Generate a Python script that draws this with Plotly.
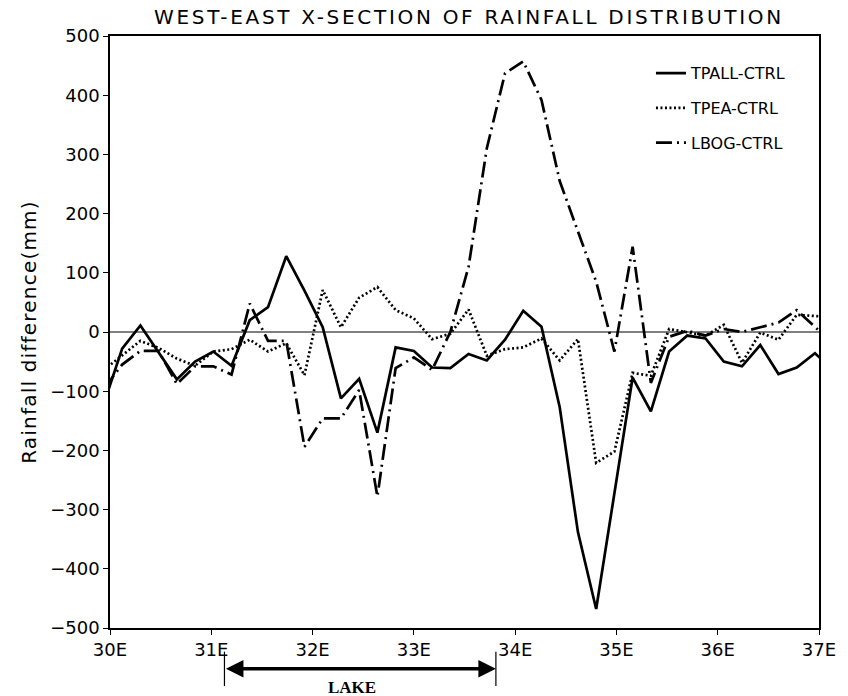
import plotly.graph_objects as go

# Longitude of each model grid column (degrees East)
lon = [29.94, 30.12, 30.30, 30.48, 30.66, 30.84, 31.02, 31.20, 31.38, 31.56,
       31.74, 31.92, 32.10, 32.28, 32.46, 32.64, 32.82, 33.00, 33.18, 33.36,
       33.54, 33.72, 33.90, 34.08, 34.26, 34.44, 34.62, 34.80, 34.98, 35.16,
       35.34, 35.52, 35.70, 35.88, 36.06, 36.24, 36.42, 36.60, 36.78, 36.96,
       37.14]

# Rainfall differences against the control run (mm)
tpall_ctrl = [-121, -28, 11, -35, -80, -50, -33, -57, 20, 42,
              128, 70, 8, -112, -79, -170, -26, -32, -60, -61,
              -37, -48, -13, 36, 9, -127, -338, -468, -273, -77,
              -134, -33, -6, -11, -50, -58, -22, -71, -60, -36,
              -64]
tpea_ctrl = [-64, -39, -15, -27, -45, -57, -33, -29, -13, -33,
             -19, -73, 71, 8, 58, 76, 37, 23, -12, -3,
             38, -40, -29, -26, -11, -48, -12, -221, -202, -69,
             -74, 5, 0, -6, 12, -52, -1, -13, 29, 27,
             25]
lbog_ctrl = [-95, -55, -32, -32, -88, -58, -58, -72, 48, -15,
             -15, -194, -146, -146, -98, -278, -61, -43, -64, 0,
             110, 310, 437, 457, 392, 255, 170, 85, -33, 144,
             -86, -8, 2, -6, 5, 0, 8, 16, 37, 8,
             -20]

series_names = ["TPALL-CTRL", "TPEA-CTRL", "LBOG-CTRL"]
series_dash = ["solid", "2px,2.5px", "16px,5px,2px,5px"]

x_ticks = [30, 31, 32, 33, 34, 35, 36, 37]
x_tick_text = ["30E", "31E", "32E", "33E", "34E", "35E", "36E", "37E"]
y_ticks = [-500, -400, -300, -200, -100, 0, 100, 200, 300, 400, 500]

# Extent of the lake along the section (degrees East)
lake_west, lake_east = 31.13, 33.81

FONT = "DejaVu Sans, sans-serif"

fig = go.Figure()
for name, vals, dash in zip(series_names, [tpall_ctrl, tpea_ctrl, lbog_ctrl], series_dash):
    fig.add_trace(go.Scatter(
        x=lon, y=vals, mode="lines", name=name, legendgroup=name,
        line=dict(color="black", width=2.7, dash=dash),
    ))

# zero reference line
fig.add_hline(y=0, line=dict(color="black", width=1))

# lake extent marker below the x axis
for xv in (lake_west, lake_east):
    fig.add_shape(type="line", xref="x", yref="paper", x0=xv, x1=xv,
                  y0=-0.040, y1=-0.098, line=dict(color="black", width=1.2))
fig.add_annotation(x=lake_east, y=-0.069, xref="x", yref="paper",
                   ax=lake_west, ay=0, axref="x", ayref="pixel",
                   showarrow=True, arrowside="end+start", arrowhead=2,
                   arrowsize=1.0, arrowwidth=3.5, arrowcolor="black", text="")
fig.add_annotation(x=(lake_west + lake_east) / 2 - 0.08, y=-0.120, xref="x", yref="paper",
                   text="<b>LAKE</b>", showarrow=False,
                   font=dict(family="Liberation Serif, Times New Roman, serif", size=17, color="black"))

fig.update_layout(
    width=848, height=696,
    margin=dict(l=110, r=19, t=36, b=68),
    paper_bgcolor="white", plot_bgcolor="white",
    title=dict(text="WEST-EAST X-SECTION OF RAINFALL DISTRIBUTION",
               x=0.553, xanchor="center", y=0.976, yanchor="middle",
               font=dict(family=FONT, size=20, color="black")),
    showlegend=True,
    legend=dict(x=0.763, y=0.966, xanchor="left", yanchor="top",
                bgcolor="rgba(0,0,0,0)", borderwidth=0,
                tracegroupgap=11,
                font=dict(family=FONT, size=16, color="black")),
    font=dict(family=FONT, color="black"),
)

fig.update_xaxes(range=[30, 37], tickvals=x_ticks, ticktext=x_tick_text,
                 ticks="outside", ticklen=5, tickcolor="black", tickwidth=1,
                 showline=True, linecolor="black", linewidth=1.5, mirror=True,
                 showgrid=False, zeroline=False,
                 tickfont=dict(family=FONT, size=18, color="black"))
fig.update_yaxes(range=[-500, 500], tickvals=y_ticks,
                 ticks="outside", ticklen=5, tickcolor="black", tickwidth=1,
                 showline=True, linecolor="black", linewidth=1.5, mirror=True,
                 showgrid=False, zeroline=False,
                 title=dict(text="Rainfall difference(mm)", standoff=8,
                            font=dict(family=FONT, size=20, color="black")),
                 tickfont=dict(family=FONT, size=18, color="black"))

# wide letter spacing for the title and the y-axis caption
spacing_js = (
    "var gd=document.getElementById('{plot_id}');"
    "gd.querySelectorAll('.gtitle').forEach(function(t){t.style.letterSpacing='2.7px';});"
    "gd.querySelectorAll('.ytitle').forEach(function(t){t.style.letterSpacing='1.2px';});"
)
fig.write_html("out.html", post_script=spacing_js)
